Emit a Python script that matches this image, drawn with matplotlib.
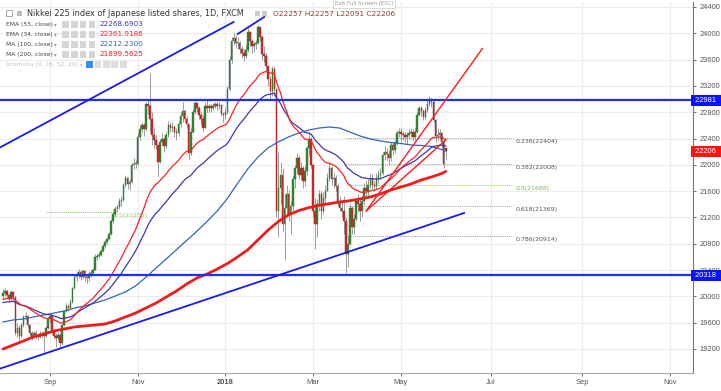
import numpy as np
import pandas as pd
import matplotlib
matplotlib.use("Agg")
import matplotlib.pyplot as plt
from matplotlib.patches import Rectangle
from matplotlib.transforms import blended_transform_factory

W, H, DPI = 721, 391, 100

# ---------------- data (daily candles, FXCM JPN225) ----------------
START, END = "2017-08-01", "2018-05-31"
FIRST_OPEN = 20000
LAST_OPEN = 22257

close_aug = [20050, 20080, 20020, 19960, 20060, 19990, 19450, 19520, 19400, 19560, 19680, 19700, 19560, 19440, 19380, 19450, 19420, 19380, 19430, 19410, 19400, 19520, 19650]
high_aug = [20110, 20130, 20100, 20040, 20090, 20080, 20000, 19600, 19560, 19600, 19720, 19760, 19720, 19580, 19470, 19480, 19490, 19450, 19470, 19470, 19440, 19550, 19680]
low_aug = [19960, 20010, 19980, 19930, 19940, 19950, 19420, 19380, 19330, 19380, 19540, 19640, 19520, 19400, 19330, 19360, 19370, 19330, 19360, 19370, 19160, 19380, 19500]

close_sep = [19700, 19480, 19400, 19360, 19420, 19290, 19560, 19780, 19860, 19820, 19920, 20120, 20300, 20320, 20370, 20300, 20380, 20290, 20280, 20340, 20360]
high_sep = [19740, 19710, 19500, 19440, 19460, 19440, 19580, 19800, 19900, 19890, 19960, 20150, 20340, 20380, 20420, 20400, 20420, 20400, 20330, 20380, 20410]
low_sep = [19600, 19440, 19350, 19230, 19330, 19230, 19260, 19550, 19760, 19780, 19800, 19900, 20110, 20240, 20280, 20250, 20280, 20240, 20200, 20240, 20300]

close_oct = [20400, 20600, 20620, 20630, 20690, 20760, 20820, 20880, 20950, 21150, 21250, 21330, 21360, 21450, 21460, 21700, 21800, 21710, 21740, 22000, 22010, 22020]
high_oct = [20430, 20640, 20660, 20680, 20720, 20790, 20860, 20910, 20980, 21180, 21300, 21370, 21400, 21490, 21520, 21730, 21850, 21820, 21790, 22050, 22100, 22080]
low_oct = [20320, 20400, 20560, 20580, 20610, 20680, 20740, 20800, 20860, 20930, 21120, 21220, 21290, 21330, 21380, 21450, 21660, 21640, 21620, 21720, 21940, 21950]

close_nov = [22420, 22540, 22600, 22550, 22930, 22900, 22700, 22450, 22380, 22300, 22050, 22350, 22400, 22280, 22450, 22600, 22560, 22580, 22500, 22480, 22620, 22740]
high_nov = [22480, 22600, 22650, 22640, 22960, 22980, 23400, 22800, 22560, 22450, 22300, 22400, 22480, 22420, 22500, 22660, 22640, 22650, 22600, 22560, 22660, 22800]
low_nov = [22000, 22380, 22500, 22440, 22520, 22780, 22500, 22300, 22260, 22240, 21820, 22030, 22280, 22200, 22250, 22420, 22500, 22500, 22420, 22380, 22440, 22580]

close_dec = [22820, 22700, 22620, 22180, 22500, 22810, 22940, 22870, 22760, 22700, 22560, 22900, 22870, 22890, 22860, 22900, 22920, 22890, 22910, 22780, 22760]
high_dec = [22960, 22850, 22750, 22620, 22560, 22850, 22990, 22960, 22900, 22800, 22760, 22950, 22990, 22930, 22920, 22940, 22950, 22960, 22960, 22930, 22800]
low_dec = [22650, 22650, 22560, 22080, 22150, 22480, 22780, 22800, 22700, 22600, 22500, 22560, 22800, 22800, 22800, 22830, 22860, 22840, 22850, 22740, 22650]

close_jan = [22800, 23150, 23600, 23880, 23930, 23850, 23850, 23760, 23700, 23660, 23750, 24020, 23880, 23800, 23830, 23850, 24100, 23940, 23690, 23660, 23500, 23300, 23120]
high_jan = [22880, 23200, 23650, 23950, 24000, 23980, 23950, 23880, 23800, 23760, 23820, 24080, 24040, 23920, 23890, 23900, 24130, 24100, 23980, 23800, 23700, 23500, 23350]
low_jan = [22700, 22780, 23120, 23550, 23820, 23780, 23760, 23680, 23620, 23580, 23620, 23720, 23800, 23700, 23720, 23760, 23840, 23880, 23600, 23560, 23420, 23200, 23000]

close_feb = [23450, 23150, 21300, 21650, 21850, 21100, 21350, 21550, 21250, 21380, 21780, 21950, 22100, 21850, 21950, 21750, 21900, 22250, 22400, 22000]
high_feb = [23500, 23500, 22950, 22200, 22050, 21950, 21550, 21700, 21620, 21450, 21850, 22000, 22180, 22150, 22050, 21980, 21980, 22290, 22480, 22420]
low_feb = [23050, 23050, 21200, 20900, 21400, 21000, 20560, 21250, 21150, 20950, 21280, 21650, 21880, 21780, 21780, 21650, 21680, 21850, 22150, 21950]

close_mar = [21300, 21100, 21400, 21550, 21300, 21500, 21600, 21800, 21950, 21780, 21800, 21680, 21450, 21350, 21300, 21150, 20650, 20800, 21350, 21050, 21180, 21450]
high_mar = [21950, 21500, 21480, 21620, 21600, 21580, 21700, 21880, 22050, 21980, 21880, 21850, 21720, 21520, 21480, 21520, 21200, 20920, 21420, 21380, 21250, 21500]
low_mar = [21200, 20720, 20900, 21300, 21180, 21250, 21400, 21600, 21750, 21700, 21650, 21600, 21380, 21300, 21200, 20950, 20350, 20450, 20780, 20950, 20950, 21150]

close_apr = [21400, 21300, 21450, 21650, 21600, 21700, 21800, 21700, 21680, 21800, 21850, 21870, 22150, 22200, 22170, 22100, 22300, 22220, 22330, 22480, 22500]
high_apr = [21560, 21480, 21520, 21720, 21750, 21780, 21880, 21860, 21760, 21870, 21920, 21950, 22200, 22280, 22250, 22220, 22350, 22330, 22380, 22530, 22560]
low_apr = [21280, 21150, 21200, 21400, 21500, 21520, 21650, 21620, 21600, 21640, 21720, 21780, 21850, 22080, 22080, 22000, 22060, 22150, 22180, 22300, 22420]

close_may = [22470, 22450, 22420, 22450, 22480, 22500, 22420, 22500, 22760, 22860, 22820, 22720, 22840, 22930, 23000, 22950, 22680, 22440, 22450, 22480, 22350, 22020, 22206]
high_may = [22560, 22520, 22500, 22500, 22540, 22560, 22540, 22560, 22800, 22900, 22900, 22850, 22880, 22980, 23050, 23020, 22980, 22700, 22560, 22550, 22500, 22400, 22257]
low_may = [22350, 22380, 22340, 22320, 22400, 22420, 22360, 22380, 22480, 22740, 22740, 22680, 22700, 22800, 22900, 22880, 22650, 22350, 22380, 22400, 22250, 21950, 22091]

# simple moving averages, one value per week (Tuesdays) + last bar
ma_dates = [d.strftime("%Y-%m-%d") for d in pd.date_range("2017-08-01", "2018-05-29", freq="7D")] + ["2018-05-31"]
ma100 = [19610, 19641, 19656, 19687, 19717, 19747, 19778, 19823, 19854, 19900,
         19945, 20006, 20067, 20160, 20290, 20430, 20570, 20710, 20850, 20990,
         21140, 21300, 21490, 21720, 21940, 22120, 22260, 22350, 22425, 22484,
         22530, 22560, 22575, 22560, 22499, 22439, 22393, 22363, 22340, 22325,
         22302, 22294, 22279, 22233, 22212]
ma200 = [19200, 19261, 19322, 19383, 19429, 19474, 19504, 19535, 19550, 19565,
         19580, 19626, 19687, 19747, 19823, 19899, 19991, 20082, 20188, 20279,
         20340, 20416, 20500, 20600, 20710, 20860, 21010, 21140, 21240, 21305,
         21350, 21385, 21410, 21435, 21455, 21481, 21511, 21557, 21617, 21663,
         21709, 21770, 21815, 21868, 21900]
EMA34_SEED = 19950
EMA55_SEED = 19900

# horizontal levels and fib levels
hlines = [22981, 20318]
fib_levels = [0.236, 0.382, 0.5, 0.618, 0.786]
fib_values = [22404, 22008, 21688, 21369, 20914]
fib_start, fib_end = "2018-03-23", "2018-07-17"
fib_old_value = 21285
fib_old_start, fib_old_end = "2017-08-30", "2017-10-16"

# trend lines: (date1, price1, date2, price2)
blue_lines = [("2017-07-28", 22256, "2018-01-05", 24172),
              ("2018-01-09", 23990, "2018-01-26", 24248),
              ("2017-07-28", 18896, "2018-06-13", 21268)]
red_lines = [("2018-04-06", 21298, "2018-06-26", 23770),
             ("2018-04-06", 21298, "2018-05-31", 22378)]

months = ["2017-09-01", "2017-11-01", "2018-01-01", "2018-03-01", "2018-05-01",
          "2018-07-01", "2018-09-01", "2018-11-01"]
month_labels = ["Sep", "Nov", "2018", "Mar", "May", "Jul", "Sep", "Nov"]
price_ticks = list(range(19200, 24401, 400))

# ---------------- build ----------------
dates = pd.bdate_range(START, END)
all_days = pd.bdate_range("2017-07-20", "2018-12-31")
base = all_days.get_loc(dates[0])


def pos(d):
    return all_days.searchsorted(pd.Timestamp(d)) - base


close = np.array(close_aug + close_sep + close_oct + close_nov + close_dec + close_jan +
                 close_feb + close_mar + close_apr + close_may, float)
high = np.array(high_aug + high_sep + high_oct + high_nov + high_dec + high_jan +
                high_feb + high_mar + high_apr + high_may, float)
low = np.array(low_aug + low_sep + low_oct + low_nov + low_dec + low_jan +
               low_feb + low_mar + low_apr + low_may, float)
opens = np.r_[FIRST_OPEN, close[:-1]]
opens[-1] = LAST_OPEN
high = np.maximum(high, np.maximum(opens, close))
low = np.minimum(low, np.minimum(opens, close))
x = np.arange(len(close))


def ema(vals, span, seed):
    a = 2.0 / (span + 1)
    e = seed
    out = []
    for v in vals:
        e = e + a * (v - e)
        out.append(e)
    return np.array(out)


ema34 = ema(close, 34, EMA34_SEED)
ema55 = ema(close, 55, EMA55_SEED)
ma_x = [pos(d) for d in ma_dates]

fig = plt.figure(figsize=(W / DPI, H / DPI), dpi=DPI)
ax = fig.add_axes([0, 18 / H, 693 / W, 371 / H])
ax.set_xlim(-1.5, 338.2)
ax.set_ylim(18835, 24476)

tick_x = [pos(m) for m in months]
ax.set_xticks(tick_x)
ax.set_xticklabels(month_labels)
ax.set_yticks(price_ticks)
ax.yaxis.tick_right()
for t in tick_x:
    ax.axvline(t, color="#ececec", lw=0.8, zorder=0)
for p in price_ticks:
    ax.axhline(p, color="#ececec", lw=0.8, zorder=0)

ax.tick_params(axis="both", labelsize=5.4, colors="#555555", length=2.5, width=0.6, pad=2)
for lab in ax.get_xticklabels() + ax.get_yticklabels():
    lab.set_family("Liberation Sans")
for lab in ax.get_xticklabels():
    if lab.get_text() == "2018":
        lab.set_fontweight("bold")
for s in ["top", "left"]:
    ax.spines[s].set_visible(False)
ax.spines["right"].set_color("#777777")
ax.spines["bottom"].set_color("#aaaaaa")

# fib retracement
fs, fe = pos(fib_start), pos(fib_end)
for lv, val in zip(fib_levels, fib_values):
    col = "#8bc34a" if lv == 0.5 else "#999999"
    ax.plot([fs, fe], [val, val], color=col, lw=0.7, ls=(0, (1, 1.2)), zorder=1)
    ax.annotate(f"{lv:g}({val})", (fe, val), xytext=(1.5, -2.5), textcoords="offset points",
                fontsize=4.5, color="#7cb342" if lv == 0.5 else "#555555", va="center",
                family="DejaVu Sans", zorder=1)
os_, oe = pos(fib_old_start), pos(fib_old_end)
ax.plot([os_, oe], [fib_old_value, fib_old_value], color="#8bc34a", lw=0.7, ls=(0, (1, 1.2)), zorder=1)
ax.annotate(f"0.5({fib_old_value})", (oe, fib_old_value), xytext=(0.5, -2.5), textcoords="offset points",
            fontsize=4.5, color="#9ccc65", va="center", family="DejaVu Sans", zorder=1)

# candles
up = close >= opens
ax.vlines(x, low, high, colors="#8c8c8c", lw=0.6, zorder=3)
body_lo = np.minimum(opens, close)
body_h = np.maximum(np.abs(close - opens), 12)
ax.bar(x[up], body_h[up], bottom=body_lo[up], width=0.75, color="#2f8a2f", edgecolor="#2f6f2f", lw=0.3, zorder=4)
ax.bar(x[~up], body_h[~up], bottom=body_lo[~up], width=0.75, color="#d42a2a", edgecolor="#a02020", lw=0.3, zorder=4)

# moving averages
ax.plot(ma_x, ma200, color="#ee1c1c", lw=2.0, zorder=5, solid_capstyle="round", solid_joinstyle="round")
ax.plot(ma_x, ma100, color="#3565b5", lw=0.9, zorder=5)
ax.plot(x, ema55, color="#3a3aa8", lw=0.9, zorder=5)
ax.plot(x, ema34, color="#ff2020", lw=0.9, zorder=5)

# horizontal levels
for hv in hlines:
    ax.axhline(hv, color="#1f2dff", lw=1.6, zorder=6)

# trend lines
for d1, p1, d2, p2 in blue_lines:
    ax.plot([pos(d1), pos(d2)], [p1, p2], color="#1a1aee", lw=1.3, zorder=6)
for d1, p1, d2, p2 in red_lines:
    ax.plot([pos(d1), pos(d2)], [p1, p2], color="#ff1a1a", lw=1.0, zorder=6)

# price labels on the axis
bt = blended_transform_factory(ax.transAxes, ax.transData)
for val, col in [(hlines[0], "#0a14ff"), (close[-1], "#ff1414"), (hlines[1], "#0a14ff")]:
    ax.text(1.0, val, f" {val:.0f}  ", transform=bt, ha="left", va="center", fontsize=5.4,
            family="Liberation Sans", color="white", clip_on=False, zorder=10,
            bbox=dict(boxstyle="square,pad=0.28", fc=col, ec="none"))


# ---------------- legend (figure pixel coords) ----------------
def F(px, py):
    return px / W, 1 - py / H


def box(px, py, w, h, fc, ec="none"):
    fig.patches.append(Rectangle(F(px, py + h), w / W, h / H, transform=fig.transFigure,
                                 fc=fc, ec=ec, lw=0.5, zorder=20))


fig.text(*F(27, 13.5), "Nikkei 225 index of Japanese listed shares, 1D, FXCM", fontsize=5.9,
         color="#333333", va="center", family="DejaVu Sans", zorder=21)
box(6, 10, 6, 6, "white", "#888888")
box(17, 10.5, 5, 5, "#bbbbbb")
box(255, 10.5, 5, 5, "#cccccc")
box(262, 10.5, 5, 5, "#cccccc")
fig.text(*F(273, 13.5), "O22257 H22257 L22091 C22206", fontsize=5.3, color="#8b3a3a",
         va="center", family="DejaVu Sans", zorder=21)

rows = [("EMA (55, close)", "22268.6903", "#3a3aa8"),
        ("EMA (34, close)", "22361.9186", "#ff2020"),
        ("MA (100, close)", "22212.2300", "#3565b5"),
        ("MA (200, close)", "21899.5625", "#ee1c1c")]
for k, (lab, val, col) in enumerate(rows):
    yy = 24.3 + 10 * k
    fig.text(*F(6, yy), lab, fontsize=4.3, color="#444444", va="center", family="DejaVu Sans", zorder=21)
    fig.text(*F(54, yy), "\u25be", fontsize=4.0, color="#999999", va="center", family="DejaVu Sans", zorder=21)
    for bx in [62, 71, 79.5, 88.5]:
        box(bx, yy - 3.3, 6.5, 6.5, "#d5d5d5")
    fig.text(*F(99.5, yy), val, fontsize=5.2, color=col, va="center", family="DejaVu Sans", zorder=21)
fig.text(*F(6, 64.3), "Ichimoku (9, 26, 52, 26)", fontsize=4.3, color="#c4c4c4", va="center",
         family="DejaVu Sans", zorder=21)
fig.text(*F(80, 64.3), "\u25be", fontsize=4.0, color="#cccccc", va="center", family="DejaVu Sans", zorder=21)
box(86, 61, 6.5, 6.5, "#3d8ee8")
for bx in [94.5, 103, 111.5, 120]:
    box(bx, 61, 6.5, 6.5, "#dddddd")

# exit full screen hint
fig.text(*F(364, 3.5), "Exit Full Screen (ESC)", fontsize=4.0, color="#9a9a9a", ha="center",
         va="center", family="DejaVu Sans", zorder=21,
         bbox=dict(boxstyle="square,pad=0.3", fc="white", ec="#cccccc", lw=0.5))

fig.savefig("out.png", dpi=DPI)
